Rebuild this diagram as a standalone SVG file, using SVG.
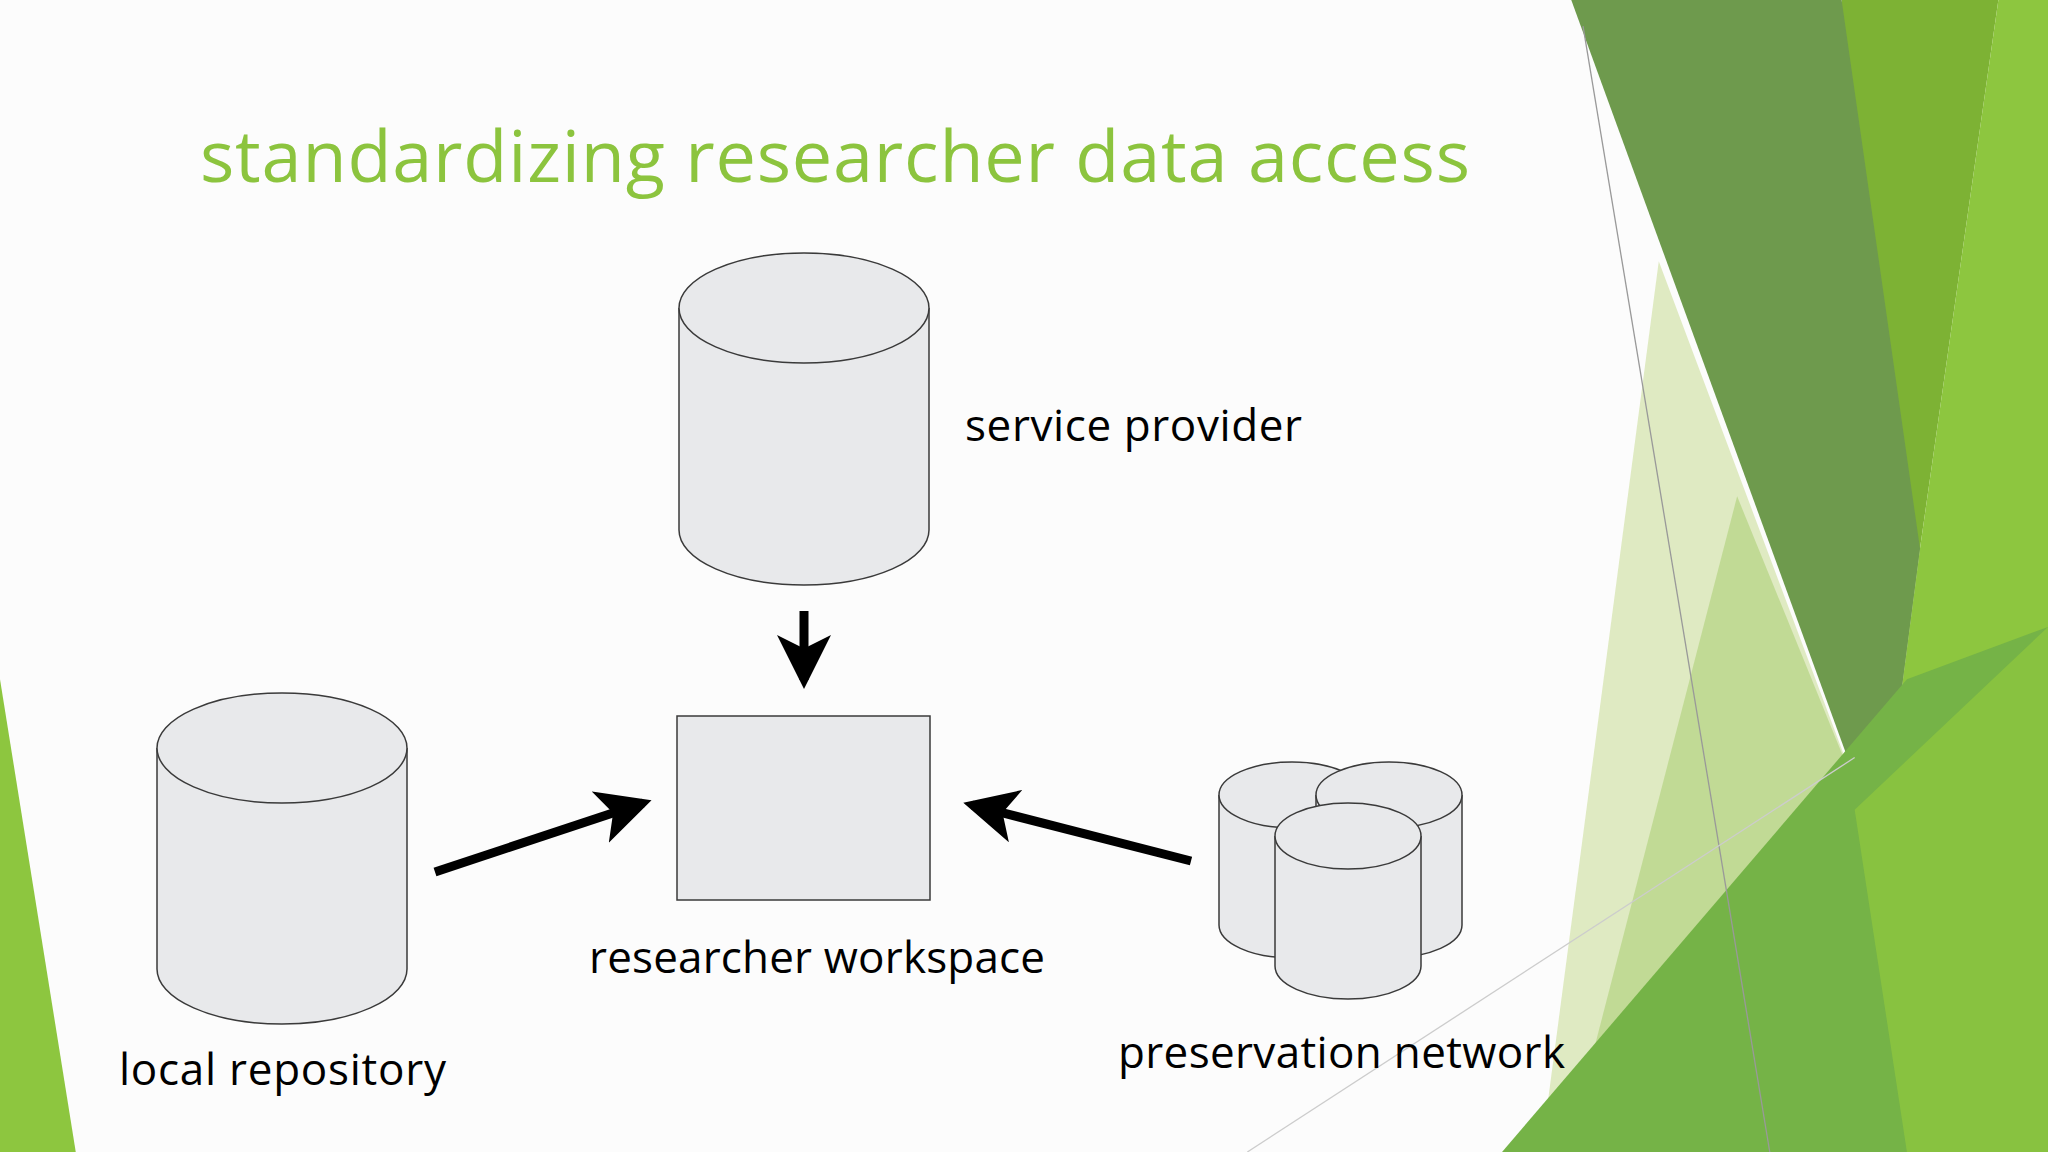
<svg xmlns="http://www.w3.org/2000/svg" width="2048" height="1152" viewBox="0 0 2048 1152">
<style>
.db{fill:#e8e9eb;stroke:#3a3a3a;stroke-width:1.5}
.lbl{font-family:"Open Sans","DejaVu Sans",sans-serif;font-size:44px;fill:#000}
.arr{stroke:#000;stroke-width:9;fill:none}
</style>
<defs>
<marker id="ah" markerWidth="6" markerHeight="6" refX="5" refY="3" orient="auto" markerUnits="strokeWidth">
<path d="M0,0 L6,3 L0,6 L1.5,3 Z" fill="#000"/>
</marker>
</defs>
<rect width="2048" height="1152" fill="#fcfcfc"/>
<g id="background" transform="scale(1.30612)">
<polygon points="0,520 58,882 0,882" fill="#8dc63f"/>
<polygon points="1270,200 1420,600 1345,882 1180,882" fill="#dfeac2"/>
<polygon points="1330,380 1440,650 1400,882 1200,882" fill="#b9d68a" opacity="0.8"/>
<polygon points="1410,0 1530,0 1470,420 1440,650" fill="#7db234"/>
<polygon points="1530,0 1568,0 1568,882 1470,882 1440,650 1470,420" fill="#8dc63f"/>
<polygon points="1203,0 1410,0 1470,420 1440,650" fill="#6e9a4d"/>
<polygon points="1150,882 1460,520 1568,480 1568,882" fill="#75b347"/>
<polygon points="1420,620 1568,480 1568,882 1460,882" fill="#8dc63f" opacity="0.8"/>
<line x1="1212" y1="20" x2="1355" y2="882" stroke="#999" stroke-width="1"/>
<line x1="955" y1="882" x2="1420" y2="580" stroke="#ccc" stroke-width="1"/>
</g>
<text x="200" y="182" font-family="'Open Sans','DejaVu Sans',sans-serif" font-size="72" font-weight="500" fill="#8cc43e" textLength="1270">standardizing researcher data access</text>
<g id="service-provider">
<path class="db" d="M679,308 V530 A125,55 0 0 0 929,530 V308"/>
<ellipse class="db" cx="804" cy="308" rx="125" ry="55"/>
<text class="lbl" x="965" y="441" textLength="337">service provider</text>
</g>
<g id="researcher-workspace">
<rect class="db" x="677" y="716" width="253" height="184"/>
<text class="lbl" x="589" y="973" textLength="456">researcher workspace</text>
</g>
<g id="local-repository">
<path class="db" d="M157,748 V969 A125,55 0 0 0 407,969 V748"/>
<ellipse class="db" cx="282" cy="748" rx="125" ry="55"/>
<text class="lbl" x="119" y="1085" textLength="327">local repository</text>
</g>
<g id="preservation-network">
<path class="db" d="M1219,795 V925 A73,33 0 0 0 1365,925 V795"/>
<ellipse class="db" cx="1292" cy="795" rx="73" ry="33"/>
<path class="db" d="M1316,795 V925 A73,33 0 0 0 1462,925 V795"/>
<ellipse class="db" cx="1389" cy="795" rx="73" ry="33"/>
<path class="db" d="M1275,836 V966 A73,33 0 0 0 1421,966 V836"/>
<ellipse class="db" cx="1348" cy="836" rx="73" ry="33"/>
<text class="lbl" x="1118" y="1068" textLength="447">preservation network</text>
</g>
<g id="connectors">
<line class="arr" x1="804" y1="611" x2="804" y2="680" marker-end="url(#ah)"/>
<line class="arr" x1="435" y1="872" x2="643" y2="803" marker-end="url(#ah)"/>
<line class="arr" x1="1191" y1="861" x2="972" y2="805" marker-end="url(#ah)"/>
</g>
</svg>
